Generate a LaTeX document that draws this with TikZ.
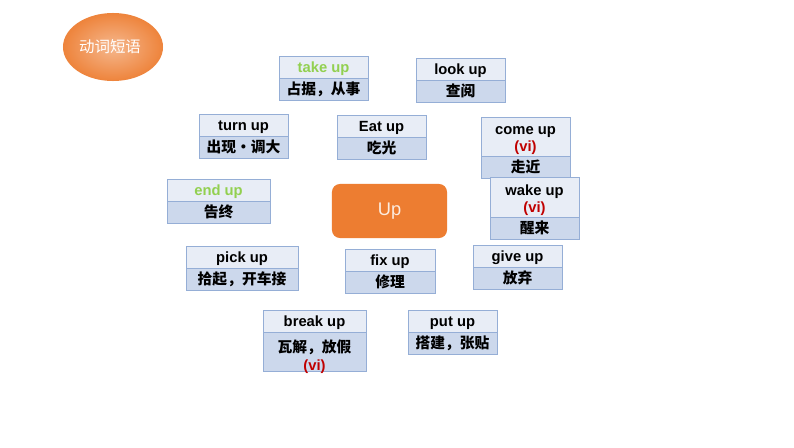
\documentclass[tikz,border=0pt]{standalone}
\usepackage{fontspec}
\setmainfont{Liberation Sans}
\newfontfamily\cjk{Noto Sans CJK SC}
\usetikzlibrary{shapes.geometric,positioning}

\definecolor{boxline}{HTML}{95AED6}
\definecolor{headfill}{HTML}{E8EDF6}
\definecolor{meanfill}{HTML}{CCD8EC}
\definecolor{upgreen}{HTML}{92D050}
\definecolor{vired}{HTML}{C00000}
\definecolor{uporange}{HTML}{ED7D31}

\tikzset{
	phrase/.style={draw=boxline, line width=0.6pt, fill=headfill,
		minimum width=2.225cm, minimum height=0.55cm,
		inner sep=0pt, outer sep=0pt, align=center,
		font=\fontsize{10.5}{12}\selectfont\bfseries, anchor=north west},
	head/.style={phrase, text height=8pt, text depth=0pt},
	twoline/.style={phrase, text height=21.6pt, text depth=0pt},
	meaning/.style={phrase, fill=meanfill},
}

\begin{document}
\begin{tikzpicture}[x=0.025cm, y=-0.025cm]

	\useasboundingbox[fill=white] (0,0) rectangle (794,447);

	% title bubble
	\shade[inner color=uporange!55!white, outer color=uporange!95!white]
		(113,47) ellipse [x radius=1.25cm, y radius=0.85cm];
	\node[text=white, font=\fontsize{11}{13}\selectfont] (title) at (110,47) {\cjk 动词短语};

	% centre word
	\node[rounded corners=0.2cm, fill=uporange, minimum width=2.875cm,
		minimum height=1.35cm, text=white!85!uporange,
		font=\fontsize{13}{15}\selectfont] (up) at (389.5,211) {Up};

	% top row
	\node[head] (takeH) at (279,56) {\color{upgreen}take up};
	\node[meaning, below=0pt of takeH] (takeM) {\cjk 占据，从事};

	\node[head] (lookH) at (416,58) {look up};
	\node[meaning, below=0pt of lookH] (lookM) {\cjk 查阅};

	\node[head] (turnH) at (199,114) {turn up};
	\node[meaning, below=0pt of turnH] (turnM) {\cjk 出现·调大};

	\node[head] (eatH) at (337,115) {Eat up};
	\node[meaning, below=0pt of eatH] (eatM) {\cjk 吃光};

	\node[twoline, minimum height=0.975cm] (comeH) at (481,117) {come up\\{\color{vired}(vi)}};
	\node[meaning, below=0pt of comeH] (comeM) {\cjk 走近};

	% middle row
	\node[head, minimum width=2.575cm] (endH) at (167,179) {\color{upgreen}end up};
	\node[meaning, minimum width=2.575cm, below=0pt of endH] (endM) {\cjk 告终};

	\node[twoline, minimum height=1cm] (wakeH) at (490,177) {wake up\\{\color{vired}(vi)}};
	\node[meaning, below=0pt of wakeH] (wakeM) {\cjk 醒来};

	% lower rows
	\node[head, minimum width=2.8cm] (pickH) at (186,246) {pick up};
	\node[meaning, minimum width=2.8cm, below=0pt of pickH] (pickM) {\cjk 拾起，开车接};

	\node[head, minimum width=2.25cm] (fixH) at (345,249) {fix up};
	\node[meaning, minimum width=2.25cm, below=0pt of fixH] (fixM) {\cjk 修理};

	\node[head] (giveH) at (473,245) {give up};
	\node[meaning, below=0pt of giveH] (giveM) {\cjk 放弃};

	\node[head, minimum width=2.575cm] (breakH) at (263,310) {break up};
	\node[meaning, minimum width=2.575cm, minimum height=0.975cm,
		text height=26.8pt, text depth=0pt, below=0pt of breakH] (breakM)
		{{\cjk 瓦解，放假}\\[1pt]{\color{vired}(vi)}};

	\node[head] (putH) at (408,310) {put up};
	\node[meaning, below=0pt of putH] (putM) {\cjk 搭建，张贴};

\end{tikzpicture}
\end{document}
